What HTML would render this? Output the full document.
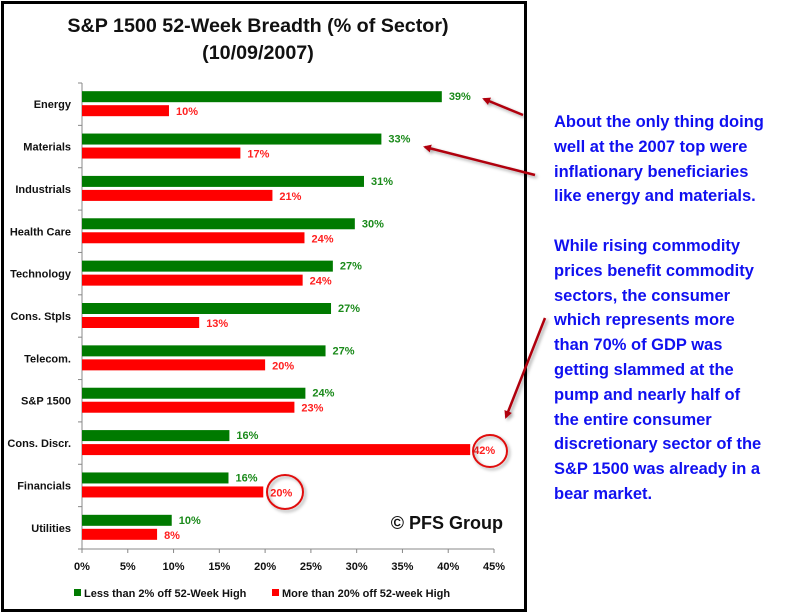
<!DOCTYPE html>
<html><head><meta charset="utf-8">
<style>
html,body{margin:0;padding:0;background:#fff;}
body{width:800px;height:614px;overflow:hidden;position:relative;font-family:"Liberation Sans",sans-serif;}
#note{position:absolute;left:554px;top:110px;width:246px;color:#1010f0;font-weight:bold;font-size:16.5px;line-height:24.8px;white-space:nowrap;}
#note p{margin:0 0 24.8px 0;}
</style></head>
<body>
<svg id="chart" width="800" height="614" style="position:absolute;left:0;top:0">
<defs>
<marker id="ah" markerWidth="8" markerHeight="8" refX="6" refY="4" orient="auto" markerUnits="userSpaceOnUse" viewBox="0 0 8 8"><path d="M0,0 L8,4 L0,8 Z" fill="#b00010"/></marker>
<filter id="sh"><feDropShadow dx="2" dy="2" stdDeviation="1.5" flood-color="#000" flood-opacity="0.35"/></filter>
</defs>
<rect x="2.5" y="2.5" width="523" height="608" fill="#fff" stroke="#000" stroke-width="3"/>
<text x="258" y="32" text-anchor="middle" font-size="19.7" font-weight="bold" font-family="Liberation Sans,sans-serif" fill="#111">S&amp;P 1500 52-Week Breadth (% of Sector)</text>
<text x="258" y="59" text-anchor="middle" font-size="19.7" font-weight="bold" font-family="Liberation Sans,sans-serif" fill="#111">(10/09/2007)</text>
<g id="plot"></g>
<text x="503" y="529" text-anchor="end" font-size="18" font-weight="bold" font-family="Liberation Sans,sans-serif" fill="#111">© PFS Group</text>
<g font-size="11" font-weight="bold" font-family="Liberation Sans,sans-serif" fill="#111">
<rect x="74" y="589" width="7" height="7" fill="#007a00"/>
<text x="84" y="597">Less than 2% off 52-Week High</text>
<rect x="272" y="589" width="7" height="7" fill="#ff0000"/>
<text x="282" y="597">More than 20% off 52-week High</text>
</g>
<g stroke="#b00010" stroke-width="2.5" fill="none" filter="url(#sh)">
<line x1="523" y1="115" x2="484" y2="99" marker-end="url(#ah)"/>
<line x1="535" y1="175" x2="425" y2="147" marker-end="url(#ah)"/>
<line x1="545" y1="318" x2="506" y2="417" marker-end="url(#ah)"/>
<ellipse cx="490" cy="451" rx="17" ry="16" stroke="#e01010" stroke-width="2"/>
<ellipse cx="285" cy="492" rx="18" ry="17" stroke="#e01010" stroke-width="2"/>
</g>
</svg>
<div id="note">
<p>About the only thing doing<br>well at the 2007 top were<br>inflationary beneficiaries<br>like energy and materials.</p>
<p>While rising commodity<br>prices benefit commodity<br>sectors, the consumer<br>which represents more<br>than 70% of GDP was<br>getting slammed at the<br>pump and nearly half of<br>the entire consumer<br>discretionary sector of the<br>S&amp;P 1500 was already in a<br>bear market.</p>
</div>
<script>
const categories=["Energy","Materials","Industrials","Health Care","Technology","Cons. Stpls","Telecom.","S&P 1500","Cons. Discr.","Financials","Utilities"];
const nearHigh=[39.3,32.7,30.8,29.8,27.4,27.2,26.6,24.4,16.1,16.0,9.8];
const offHigh=[9.5,17.3,20.8,24.3,24.1,12.8,20.0,23.2,42.4,19.8,8.2];
const ticks=[0,5,10,15,20,25,30,35,40,45];
const NS="http://www.w3.org/2000/svg";
const X0=82,X1=494,Y0=83,Y1=549,XMAX=45;
const xs=v=>X0+(v/XMAX)*(X1-X0);
const band=(Y1-Y0)/categories.length;
const yc=i=>Y0+band*(i+0.5);
const g=document.getElementById('plot');
function mk(t,a){const e=document.createElementNS(NS,t);for(const k in a)e.setAttribute(k,a[k]);g.appendChild(e);return e;}
let ax=mk('line',{x1:X0,y1:Y0,x2:X0,y2:Y1,stroke:'#888'});


let bx=mk('line',{x1:X0,y1:Y1,x2:X1,y2:Y1,stroke:'#888'});


for(let i=0;i<=categories.length;i++){const y=Y0+band*i;mk('line',{x1:X0-4,y1:y,x2:X0,y2:y,stroke:'#888'});}
ticks.forEach(t=>{
 mk('line',{x1:xs(t),y1:Y1,x2:xs(t),y2:Y1+4,stroke:'#888'});
 const tx=mk('text',{x:xs(t),y:Y1+21,'text-anchor':'middle','font-size':11,'font-weight':'bold','font-family':'Liberation Sans,sans-serif',fill:'#111'});
 tx.textContent=t+'%';
 
 
});
categories.forEach((c,i)=>{
 const y=yc(i);
 const lb=mk('text',{x:71,y:y+4,'text-anchor':'end','font-size':11,'font-weight':'bold','font-family':'Liberation Sans,sans-serif',fill:'#111'});
 lb.textContent=c;
 
 
 const gb=mk('rect',{x:X0,y:y-13,width:xs(nearHigh[i])-X0,height:11,fill:'#007a00'});
 
 
 const rb=mk('rect',{x:X0,y:y+1,width:xs(offHigh[i])-X0,height:11,fill:'#ff0000'});
 
 
 const gl=mk('text',{x:xs(nearHigh[i])+7,y:y-4,'font-size':11,'font-weight':'bold','font-family':'Liberation Sans,sans-serif',fill:'#1a8a1a'});
 gl.textContent=Math.round(nearHigh[i])+'%';
 
 
 const near=xs(offHigh[i])+30>X1;
 const rl=mk('text',{x:xs(offHigh[i])+(near?3:7),y:y+11,'font-size':11,'font-weight':'bold','font-family':'Liberation Sans,sans-serif',fill:'#ff2020'});
 rl.textContent=Math.round(offHigh[i])+'%';
 
 
});
</script>
</body></html>
